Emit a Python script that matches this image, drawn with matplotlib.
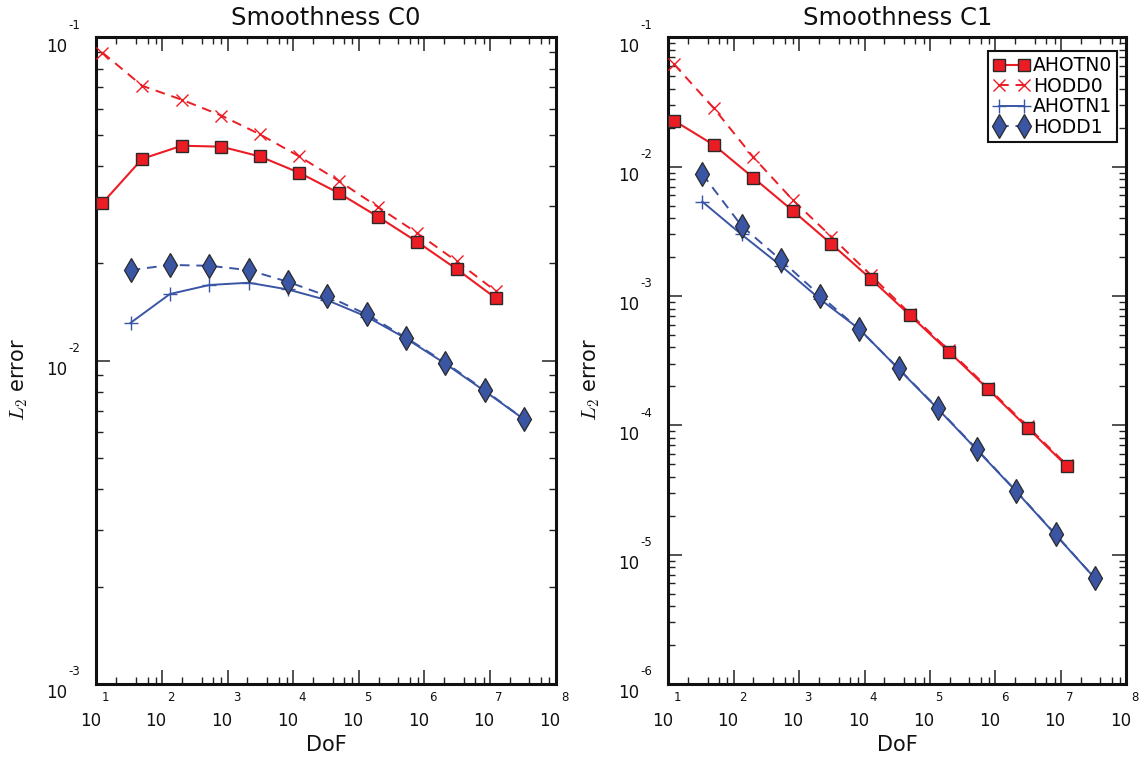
import matplotlib
matplotlib.use("Agg")
import matplotlib.pyplot as plt
from matplotlib.ticker import LogLocator, NullFormatter
from matplotlib.transforms import blended_transform_factory, offset_copy

plt.rcParams['font.family'] = ['DejaVu Sans']
plt.rcParams['mathtext.fontset'] = 'cm'

# ---------------- data ----------------
dof_red = [12.3, 49.8, 200, 800, 3120, 12400, 49300, 195000, 778000, 3.10e6, 1.233e7]
dof_blue = [33.1, 131.5, 527, 2100, 8300, 33000, 131800, 522000, 2.08e6, 8.34e6, 3.33e7]

ahotn0_c0 = [0.0307, 0.0421, 0.0462, 0.0459, 0.0428, 0.0381, 0.0330, 0.0279, 0.0233, 0.0192, 0.0156]
hodd0_c0 = [0.0897, 0.0708, 0.0641, 0.0573, 0.0501, 0.0428, 0.0360, 0.0299, 0.0248, 0.0203, 0.0164]
ahotn1_c0 = [0.01309, 0.01607, 0.01714, 0.01742, 0.01660, 0.01538, 0.01368, 0.01172, 0.00979, 0.00805, 0.00658]
hodd1_c0 = [0.01905, 0.01977, 0.01965, 0.01905, 0.01753, 0.01585, 0.01390, 0.01179, 0.00986, 0.00810, 0.00658]

ahotn0_c1 = [0.02265, 0.01469, 0.00820, 0.00456, 0.00252, 0.001358, 0.000711, 0.000370, 0.0001897, 9.57e-5, 4.84e-5]
hodd0_c1 = [0.0618, 0.02825, 0.0118, 0.00552, 0.00287, 0.00145, 0.00073, 0.00038, 0.000194, 9.8e-5, 4.95e-5]
ahotn1_c1 = [0.00536, 0.00299, 0.001713, 0.000942, 0.000555, 0.000273, 0.000134, 6.45e-5, 3.08e-5, 1.42e-5, 6.55e-6]
hodd1_c1 = [0.00877, 0.00349, 0.001897, 0.001005, 0.000552, 0.000275, 0.0001352, 6.52e-5, 3.10e-5, 1.432e-5, 6.55e-6]

titles = ["Smoothness C0", "Smoothness C1"]
labels = ["AHOTN0", "HODD0", "AHOTN1", "HODD1"]
ylims = [(1e-3, 1e-1), (1e-6, 1e-1)]
x_exps = list(range(1, 9))
y_exps = [[-1, -2, -3], [-1, -2, -3, -4, -5, -6]]

RED = '#ec1c24'
BLUE = '#3a55a4'
EDGE = '#2a2a2a'

W, H = 1139, 759
fig = plt.figure(figsize=(W / 100, H / 100), dpi=100)

ax_px = [(96.5, 75, 459, 646.7), (668.3, 75, 458, 646.7)]
data = [(ahotn0_c0, hodd0_c0, ahotn1_c0, hodd1_c0),
        (ahotn0_c1, hodd0_c1, ahotn1_c1, hodd1_c1)]

for i in range(2):
    x0, y0, w, h = ax_px[i]
    ax = fig.add_axes([x0 / W, y0 / H, w / W, h / H])
    a0, h0, a1, h1 = data[i]
    ax.plot(dof_red, a0, color=RED, lw=1.5, marker='s', ms=9, mfc=RED,
            mec=EDGE, mew=1.0, label=labels[0], zorder=4)
    ax.plot(dof_red, h0, color=RED, lw=1.4, ls=(0, (5, 3.5)), marker='x', ms=9,
            mec=RED, mew=1.0, label=labels[1], zorder=3)
    ax.plot(dof_blue, a1, color=BLUE, lw=1.4, marker='+', ms=10, mec=BLUE,
            mew=1.0, label=labels[2], zorder=3)
    ax.plot(dof_blue, h1, color=BLUE, lw=1.4, ls=(0, (5, 3.5)), marker='d', ms=12,
            mfc=BLUE, mec=EDGE, mew=0.9, label=labels[3], zorder=4)

    ax.set_xscale('log')
    ax.set_yscale('log')
    ax.set_xlim(10, 1e8)
    ax.set_ylim(*ylims[i])

    ax.xaxis.set_major_locator(LogLocator(base=10, numticks=20))
    ax.xaxis.set_minor_locator(LogLocator(base=10, subs=[2, 4, 6, 8], numticks=20))
    ax.yaxis.set_major_locator(LogLocator(base=10, numticks=20))
    ax.yaxis.set_minor_locator(LogLocator(base=10, subs=list(range(2, 10)), numticks=50))
    ax.xaxis.set_major_formatter(NullFormatter())
    ax.xaxis.set_minor_formatter(NullFormatter())
    ax.yaxis.set_major_formatter(NullFormatter())
    ax.yaxis.set_minor_formatter(NullFormatter())
    ax.tick_params(which='both', direction='in', top=True, right=True, color='#222222')
    ax.tick_params(which='major', length=10, width=1.1)
    ax.tick_params(which='minor', length=5, width=1.0)
    for s in ax.spines.values():
        s.set_linewidth(2.2)
        s.set_color('#111111')

    # tick labels as "10" with raised exponent
    trx = blended_transform_factory(ax.transData, ax.transAxes)
    for e in x_exps:
        ax.text(10 ** e, 0, "10", transform=offset_copy(trx, fig=fig, x=-6, y=-37, units='dots'),
                ha='center', va='center', fontsize=12, color='#111111')
        ax.text(10 ** e, 0, str(e), transform=offset_copy(trx, fig=fig, x=9, y=-13.5, units='dots'),
                ha='center', va='center', fontsize=8.5, color='#111111')
    try_ = blended_transform_factory(ax.transAxes, ax.transData)
    for e in y_exps[i]:
        ax.text(0, 10.0 ** e, "10", transform=offset_copy(try_, fig=fig, x=-29, y=-9.5, units='dots'),
                ha='right', va='center', fontsize=12, color='#111111')
        ax.text(0, 10.0 ** e, str(e), transform=offset_copy(try_, fig=fig, x=-28, y=12, units='dots'),
                ha='left', va='center', fontsize=8.5, color='#111111')

    ax.set_title(titles[i], fontsize=17.5, pad=8.5, color='#111111')
    ax.text(0.5, -(745 - 684) / 646.7, "DoF", transform=ax.transAxes,
            ha='center', va='center', fontsize=15, color='#111111')
    fig.text((x0 - 77) / W, 0.5 + (759 / 2 - 360.7) / H * 0, r"$L_2$ error", rotation=90,
             ha='center', va='center', fontsize=15, color='#111111',
             transform=fig.transFigure)

    if i == 1:
        leg = ax.legend(loc='upper right', bbox_to_anchor=(0.980, 0.979), borderaxespad=0,
                        numpoints=2, fontsize=13.5, handlelength=1.9, handletextpad=0.18,
                        borderpad=0.28, labelspacing=0.08, fancybox=False, framealpha=1)
        leg.get_frame().set_edgecolor('#111111')
        leg.get_frame().set_linewidth(1.5)

fig.savefig("out.png", dpi=100)
